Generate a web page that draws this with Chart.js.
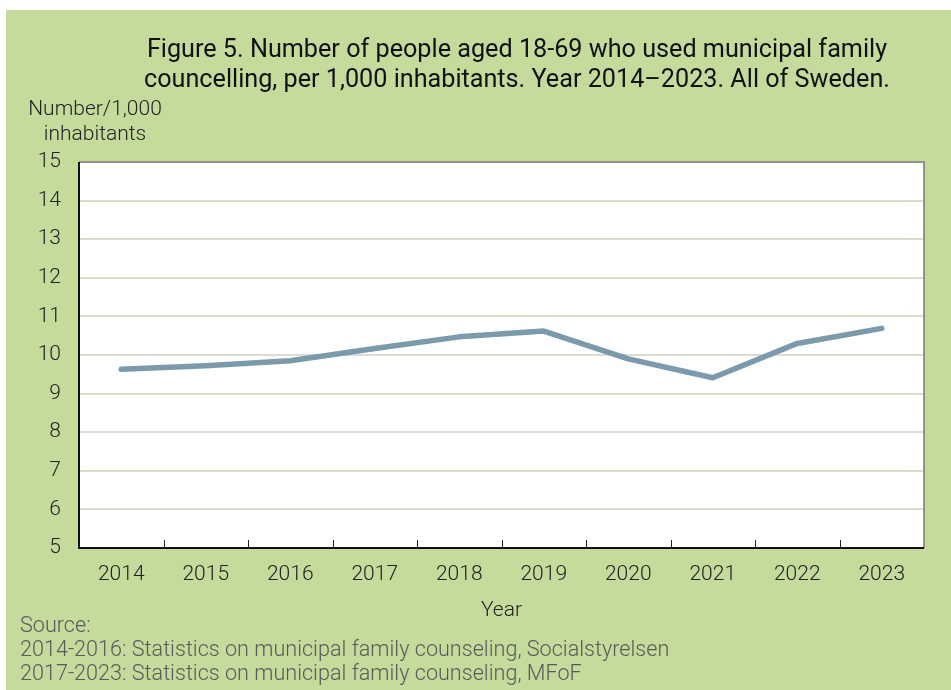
<!DOCTYPE html>
<html>
<head>
<meta charset="utf-8">
<script src="https://cdn.jsdelivr.net/npm/chart.js@4"></script>
<style>
  body { margin: 0; background: #fff; font-family: Roboto, sans-serif; }
  #panel { position: absolute; left: 6px; top: 10px; width: 945px; height: 680px; background: #c5db9c; }
  #chartBox { position: absolute; left: 0; top: 0; width: 945px; height: 680px; }
  .txt { position: absolute; white-space: nowrap; }
  #title { left: 94px; width: 834px; top: 24px; text-align: center; font-size: 25.2px; line-height: 30px; color: #111; }
  #ylab { left: 4px; top: 86px; width: 170px; text-align: center; font-size: 21px; line-height: 25px; color: #222; font-weight: 300; }
  #source { left: 14px; top: 603px; font-size: 21.6px; line-height: 24px; color: #5a5a5a; font-weight: 300; }
</style>
</head>
<body>
<div id="panel">
  <div id="chartBox"><canvas id="fcChart" width="945" height="680"></canvas></div>
  <div class="txt" id="title">Figure 5. Number of people aged 18-69 who used municipal family<br>councelling, per 1,000 inhabitants. Year 2014–2023. All of Sweden.</div>
  <div class="txt" id="ylab">Number/1,000<br>inhabitants</div>
  <div class="txt" id="source">Source:<br>2014-2016: Statistics on municipal family counseling, Socialstyrelsen<br>2017-2023: Statistics on municipal family counseling, MFoF</div>
</div>
<script>
const years = ['2014', '2015', '2016', '2017', '2018', '2019', '2020', '2021', '2022', '2023'];
const perThousand = [9.63, 9.72, 9.85, 10.17, 10.47, 10.62, 9.90, 9.41, 10.30, 10.69];
const yMin = 5;
const yMax = 15;

// white plot area, frame and small inner tick marks on the x axis
const framePlugin = {
    id: 'frame',
    beforeDraw(chart) {
        const a = chart.chartArea;
        chart.ctx.save();
        chart.ctx.fillStyle = '#fff';
        chart.ctx.fillRect(a.left, a.top, a.right - a.left, a.bottom - a.top);
        chart.ctx.restore();
    },
    afterDatasetsDraw(chart) {
        const ctx = chart.ctx;
        const a = chart.chartArea;
        ctx.save();
        ctx.strokeStyle = '#7a7a7a';
        ctx.lineWidth = 1.5;
        ctx.beginPath();
        ctx.moveTo(a.left, a.top);
        ctx.lineTo(a.right, a.top);
        ctx.lineTo(a.right, a.bottom);
        ctx.stroke();
        ctx.strokeStyle = '#111';
        ctx.lineWidth = 2;
        ctx.beginPath();
        ctx.moveTo(a.left, a.top);
        ctx.lineTo(a.left, a.bottom);
        ctx.lineTo(a.right, a.bottom);
        ctx.stroke();
        const step = (a.right - a.left) / years.length;
        ctx.lineWidth = 1;
        ctx.strokeStyle = '#222';
        for (let i = 1; i < years.length; i++) {
            const x = Math.round(a.left + i * step) + 0.5;
            ctx.beginPath();
            ctx.moveTo(x, a.bottom);
            ctx.lineTo(x, a.bottom - 8);
            ctx.stroke();
        }
        ctx.restore();
    }
};

const ctx = document.getElementById('fcChart').getContext('2d');
const fcChart = new Chart(ctx, {
    type: 'line',
    data: {
        labels: years,
        datasets: [{
            data: perThousand,
            borderColor: '#7b9aab',
            borderWidth: 5.5,
            pointRadius: 0,
            tension: 0,
            borderCapStyle: 'round',
            borderJoinStyle: 'round'
        }]
    },
    options: {
        responsive: false,
        animation: false,
        layout: { padding: { left: 0, right: 27, top: 152, bottom: 67 } },
        plugins: {
            legend: { display: false },
            tooltip: { enabled: false }
        },
        scales: {
            x: {
                offset: true,
                grid: { display: false, drawTicks: false },
                border: { display: false },
                ticks: { color: '#222', padding: 14, font: { family: 'Roboto', size: 21, weight: 300 } },
                title: { display: true, text: 'Year', color: '#222', padding: { top: 0, bottom: 0 }, font: { family: 'Roboto', size: 21, weight: 300 } },
                afterFit(scale) { scale.height = 75; }
            },
            y: {
                min: yMin,
                max: yMax,
                grid: { color: '#dedcd2', lineWidth: 2, drawTicks: false },
                border: { display: false },
                ticks: { stepSize: 1, color: '#222', padding: 18, font: { family: 'Roboto', size: 21, weight: 300 } },
                afterFit(scale) { scale.width = 73; }
            }
        }
    },
    plugins: [framePlugin]
});
</script>
</body>
</html>
